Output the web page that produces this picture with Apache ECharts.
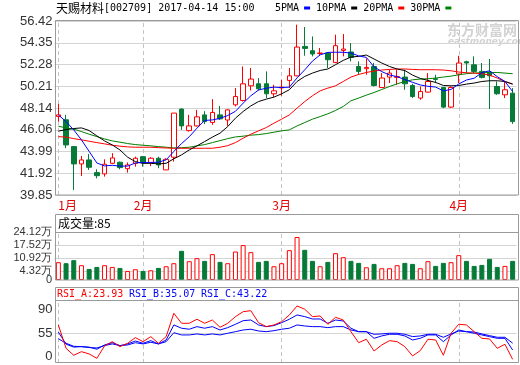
<!DOCTYPE html>
<html>
<head>
<meta charset="utf-8">
<script src="https://cdn.jsdelivr.net/npm/echarts@6/dist/echarts.min.js"></script>
<style>
html,body{margin:0;padding:0;background:#ffffff;}
#chart{width:520px;height:365px;}
</style>
</head>
<body>
<div id="chart"></div>
<script>
// ---------------- data ----------------
const STOCK_NAME = '天赐材料';
const STOCK_CODE = '002709';
const TIMESTAMP = '2017-04-14 15:00';
const VOLUME_TITLE = '成交量:85';

const DATES = [
 '2017-01-12','2017-01-13','2017-01-16','2017-01-17','2017-01-18','2017-01-19','2017-01-20','2017-01-23','2017-01-24','2017-01-25','2017-01-26',
 '2017-02-03','2017-02-06','2017-02-07','2017-02-08','2017-02-09','2017-02-10','2017-02-13','2017-02-14','2017-02-15','2017-02-16','2017-02-17','2017-02-20','2017-02-21','2017-02-22','2017-02-23','2017-02-24','2017-02-27','2017-02-28',
 '2017-03-01','2017-03-02','2017-03-03','2017-03-06','2017-03-07','2017-03-08','2017-03-09','2017-03-10','2017-03-13','2017-03-14','2017-03-15','2017-03-16','2017-03-17','2017-03-20','2017-03-21','2017-03-22','2017-03-23','2017-03-24','2017-03-27','2017-03-28','2017-03-29','2017-03-30','2017-03-31',
 '2017-04-05','2017-04-06','2017-04-07','2017-04-10','2017-04-11','2017-04-12','2017-04-13','2017-04-14'
];

const OPEN = [
 47.32,47.01,44.46,42.81,43.19,41.98,41.86,42.87,42.97,42.36,
 42.87,43.50,42.93,43.35,42.24,43.45,48.03,45.98,46.43,47.48,
 46.76,47.48,46.99,48.44,48.85,50.25,50.44,50.44,49.49,50.05,
 50.76,51.20,54.00,53.59,53.33,53.37,52.47,53.62,53.47,52.09,
 51.88,52.09,50.09,51.08,51.05,51.08,50.28,49.08,49.65,50.92,
 50.09,48.22,51.37,52.54,52.25,51.62,51.55,50.18,49.39,49.55
];
const CLOSE = [
 47.48,44.62,42.81,43.19,42.49,41.69,42.78,43.38,42.46,42.71,
 43.35,42.93,43.35,42.71,43.25,47.65,46.43,46.43,47.29,46.85,
 47.71,47.10,47.96,49.23,50.44,50.89,49.96,49.49,49.77,50.12,
 51.20,53.94,53.81,53.28,53.37,52.73,54.07,53.75,52.95,51.62,
 52.00,50.28,50.99,51.46,51.12,50.44,49.23,49.71,50.66,50.86,
 48.22,50.09,52.42,52.42,51.62,51.05,51.20,49.49,49.87,46.84
];
const LOW = [
 46.84,44.31,40.33,41.66,42.24,41.44,41.60,42.80,42.30,41.98,
 42.55,42.55,42.60,42.40,42.24,43.03,46.05,45.89,46.37,46.60,
 46.53,46.99,46.43,48.28,48.75,49.80,49.80,49.08,49.17,49.30,
 50.03,51.15,53.11,53.05,53.11,51.94,52.40,53.05,52.57,51.30,
 51.30,50.18,50.05,50.51,50.35,49.87,49.08,48.92,49.60,50.51,
 48.12,48.15,50.51,51.46,51.46,50.95,48.03,49.39,49.08,46.62
];
const HIGH = [
 48.53,47.48,44.46,43.57,43.76,42.30,43.25,43.83,43.03,42.95,
 43.50,43.55,43.45,43.50,43.35,47.65,48.10,47.48,47.96,47.83,
 48.98,48.34,48.03,50.03,52.09,51.94,50.99,51.62,50.35,50.82,
 51.94,56.07,55.85,54.95,53.85,53.46,55.12,55.18,54.32,52.57,
 52.86,52.42,51.46,51.78,51.78,51.78,50.44,50.18,51.46,51.30,
 50.12,50.20,53.11,52.64,53.05,52.42,52.80,50.66,50.66,50.03
];

const MA5 = [
 47.48,46.84,46.05,45.10,44.00,42.90,42.62,42.68,42.60,42.60,
 42.90,42.95,42.95,42.97,43.20,44.00,44.75,45.40,46.21,46.95,
 47.00,47.15,47.42,47.82,48.60,49.30,49.85,50.02,50.12,50.08,
 50.12,51.00,51.77,52.60,53.20,53.43,53.45,53.44,53.37,53.10,
 52.95,52.05,51.60,51.28,51.12,50.84,50.58,50.33,50.20,50.13,
 49.76,49.90,50.42,50.80,50.97,51.50,51.68,51.12,50.66,49.70
];
const MA10 = [
 45.93,46.08,46.18,46.24,45.99,45.48,45.00,44.62,44.14,43.45,
 43.03,42.86,42.87,42.81,42.87,43.30,43.67,44.14,44.53,44.94,
 45.36,45.74,46.37,47.17,47.80,48.34,48.75,48.98,49.17,49.49,
 49.87,50.66,51.14,51.46,51.71,51.85,52.26,52.67,52.99,53.05,
 53.18,52.80,52.42,52.09,51.85,51.70,51.27,50.95,50.76,50.57,
 50.28,50.25,50.28,50.41,50.51,50.66,50.73,50.73,50.66,50.41
];
const MA20 = [
 45.41,45.36,45.22,45.10,44.97,44.84,44.72,44.59,44.50,44.43,
 44.40,44.40,44.40,44.36,44.33,44.30,44.30,44.30,44.30,44.30,
 44.30,44.40,44.55,44.84,45.26,45.64,45.96,46.27,46.69,47.07,
 47.48,48.12,48.75,49.30,49.77,50.03,50.25,50.66,51.08,51.33,
 51.52,51.65,51.75,51.81,51.85,51.85,51.81,51.78,51.78,51.78,
 51.75,51.68,51.56,51.49,51.46,51.40,51.27,50.99,50.66,50.41
];
const MA30 = [
 46.40,46.24,46.12,45.89,45.64,45.41,45.19,45.00,44.88,44.75,
 44.65,44.59,44.53,44.46,44.40,44.33,44.36,44.40,44.53,44.65,
 44.84,45.03,45.22,45.38,45.45,45.55,45.60,45.70,45.83,45.96,
 46.05,46.43,46.75,47.07,47.32,47.58,47.90,48.28,48.82,49.08,
 49.36,49.61,49.90,50.18,50.44,50.66,50.82,50.89,50.92,50.99,
 51.08,51.17,51.30,51.40,51.46,51.49,51.52,51.52,51.46,51.40
];

// volume in 万 (10k shares)
const VOLUME = [
 8.95,8.44,9.96,7.43,5.56,6.57,7.43,6.57,6.07,4.55,
 5.41,4.55,4.89,6.07,6.91,8.44,14.66,9.45,10.97,9.61,
 12.99,9.10,8.44,14.31,17.54,14.00,9.10,9.61,6.91,8.44,
 15.00,21.60,15.17,9.61,6.91,9.10,13.48,11.46,9.61,8.60,
 6.40,8.09,5.90,5.90,7.43,8.60,8.09,5.90,9.45,7.08,
 8.60,8.95,12.49,9.61,7.08,7.58,10.62,6.57,7.08,9.61
];

const RSI_A = [
 64.9,37.1,28.8,33.1,30.4,25.2,39.9,45.0,39.1,43.1,
 49.8,45.0,51.0,43.1,51.0,78.8,66.9,66.9,71.7,66.9,
 70.8,62.1,66.9,74.8,80.7,81.9,67.6,62.9,64.9,68.8,
 76.8,87.5,83.6,74.8,75.6,65.7,74.0,70.8,56.9,43.8,
 47.9,33.9,41.1,46.2,45.0,39.1,28.0,34.3,47.9,47.0,
 28.8,55.0,65.7,64.9,56.9,49.0,48.2,37.1,41.9,23.93
];
const RSI_B = [
 56.5,42.0,38.5,39.1,38.5,36.0,41.1,43.8,40.3,42.3,
 45.8,43.1,46.2,42.3,47.0,64.9,61.0,59.8,62.9,61.0,
 62.9,58.9,61.7,65.7,70.0,70.8,64.9,62.9,64.1,67.6,
 71.7,76.8,74.8,72.0,72.0,66.9,70.8,69.6,61.0,56.9,
 56.9,49.0,51.8,53.8,53.8,51.8,47.0,49.0,53.0,53.0,
 45.0,53.0,58.9,56.9,55.0,53.0,51.0,49.0,49.0,35.07
];
const RSI_C = [
 48.5,43.1,39.5,39.1,38.0,37.5,40.3,42.3,40.3,41.1,
 43.8,42.3,44.3,42.3,45.0,55.7,53.0,53.0,54.2,53.0,
 54.2,53.0,55.0,56.9,58.9,59.8,57.7,56.9,58.1,59.8,
 61.0,64.9,63.7,62.9,62.9,61.7,62.9,62.9,58.9,56.9,
 56.9,53.8,54.2,55.0,55.0,53.8,51.0,51.8,53.8,53.8,
 50.2,54.2,57.7,56.9,56.5,54.2,52.2,50.2,50.2,43.22
];

const PRICE_TICKS = [39.85, 41.92, 43.99, 46.06, 48.14, 50.21, 52.28, 54.35, 56.42];
const VOLUME_TICKS = [0, 4.32, 10.92, 17.52, 24.12];
const RSI_TICKS = [0, 55, 90];

// ---------------- chart ----------------
const RED = '#ff0000', GREEN = '#067a37', BLUE = '#0000ff', BLACK = '#000000', MAGREEN = '#008000';
const GRID_LINE = '#d4d4d4', FRAME = '#9a9a9a', DASH = '#c4c4c4';
const RSI_MIN = 19.6, RSI_MAX = 94.6;

const monthStarts = DATES.map((d, i) => (i === 0 || d.slice(5, 7) !== DATES[i - 1].slice(5, 7)) ? i : -1).filter(i => i >= 0);
const vLines = monthStarts.map(i => ({ xAxis: DATES[i], lineStyle: { color: DASH, type: [4, 3], width: 1 } }));
const hLine = v => ({ yAxis: v, lineStyle: { color: GRID_LINE, type: 'solid', width: 1 } });
const markBase = { silent: true, symbol: ['none', 'none'], label: { show: false }, z: 1, animation: false };

const candleData = OPEN.map((o, i) => [o, CLOSE[i], LOW[i], HIGH[i]]);
const volData = VOLUME.map((v, i) => {
  const up = CLOSE[i] >= OPEN[i];
  return { value: v, itemStyle: up ? { color: '#ffffff', borderColor: RED, borderWidth: 1 } : { color: GREEN, borderColor: GREEN, borderWidth: 1 } };
});

function catAxis(gridIndex, showLabel) {
  return {
    type: 'category', gridIndex, data: DATES, boundaryGap: true,
    axisLine: { show: false }, axisTick: { show: false }, splitLine: { show: false },
    axisLabel: showLabel ? {
      show: true, color: '#e00000', fontSize: 12, fontFamily: 'Noto Sans CJK SC', margin: 4,
      interval: (idx) => monthStarts.includes(idx),
      formatter: (val) => parseInt(val.slice(5, 7), 10) + '月',
      alignMinLabel: 'left'
    } : { show: false }
  };
}
function lineSeries(name, data, color, xi, yi) {
  return {
    type: 'line', name, data, xAxisIndex: xi, yAxisIndex: yi, symbol: 'none', showSymbol: false,
    smooth: false, color, itemStyle: { color }, lineStyle: { color, width: 1 }, emphasis: { disabled: true }
  };
}

const chart = echarts.init(document.getElementById('chart'), null, { renderer: 'canvas', width: 520, height: 365 });

const baseGraphic = [
  { type: 'text', x: 447, y: 30, z: 0, silent: true, style: { text: '东方财富网', font: 'bold 14px "Noto Sans CJK SC"', fill: '#d2d2d2', verticalAlign: 'middle' } },
  { type: 'text', x: 448, y: 42, z: 0, silent: true, style: { text: 'eastmoney.com', font: 'italic bold 9px "DejaVu Sans"', fill: '#d2d2d2', verticalAlign: 'middle' } },
  { type: 'rect', z: 20, silent: true, shape: { x: 55.5, y: 20.5, width: 463, height: 174.5 }, style: { fill: 'none', stroke: FRAME, lineWidth: 1 } },
  { type: 'rect', z: 20, silent: true, shape: { x: 55.5, y: 214.5, width: 463, height: 65.5 }, style: { fill: 'none', stroke: FRAME, lineWidth: 1 } },
  { type: 'line', z: 20, silent: true, shape: { x1: 55.5, y1: 232.5, x2: 518.5, y2: 232.5 }, style: { stroke: FRAME, lineWidth: 1 } },
  { type: 'rect', z: 20, silent: true, shape: { x: 55.5, y: 287.5, width: 463, height: 75 }, style: { fill: 'none', stroke: FRAME, lineWidth: 1 } },
  { type: 'line', z: 20, silent: true, shape: { x1: 55.5, y1: 300.5, x2: 518.5, y2: 300.5 }, style: { stroke: FRAME, lineWidth: 1 } },
  { type: 'text', x: 58, y: 223.5, z: 21, silent: true, style: { text: VOLUME_TITLE, font: '12px "Noto Sans CJK SC"', fill: '#000', verticalAlign: 'middle' } },
  { type: 'text', x: 57, y: 294.5, z: 21, silent: true, style: { text: 'RSI_A:' + RSI_A[RSI_A.length - 1].toFixed(2), font: '10px "DejaVu Sans Mono"', fill: RED, verticalAlign: 'middle' } },
  { type: 'text', x: 129, y: 294.5, z: 21, silent: true, style: { text: 'RSI_B:' + RSI_B[RSI_B.length - 1].toFixed(2), font: '10px "DejaVu Sans Mono"', fill: BLUE, verticalAlign: 'middle' } },
  { type: 'text', x: 201, y: 294.5, z: 21, silent: true, style: { text: 'RSI_C:' + RSI_C[RSI_C.length - 1].toFixed(2), font: '10px "DejaVu Sans Mono"', fill: BLUE, verticalAlign: 'middle' } }
];

const option = {
  animation: false,
  backgroundColor: '#ffffff',
  title: {
    left: 56, top: 1, padding: 0,
    text: '{a|' + STOCK_NAME + '}{b|[' + STOCK_CODE + '] ' + TIMESTAMP + '}',
    textStyle: {
      fontWeight: 'normal',
      rich: {
        a: { fontFamily: 'Noto Sans CJK SC', fontSize: 12, fontWeight: 'normal', color: '#000', lineHeight: 15 },
        b: { fontFamily: 'DejaVu Sans Mono', fontSize: 10, fontWeight: 'normal', color: '#000', lineHeight: 15 }
      }
    }
  },
  legend: {
    left: 275, top: 3, padding: 0, itemGap: 6, itemWidth: 6, itemHeight: 3, icon: 'rect', align: 'right',
    selectedMode: false,
    textStyle: { fontFamily: 'DejaVu Sans Mono', fontSize: 10, color: '#000' },
    data: ['5PMA', '10PMA', '20PMA', '30PMA']
  },
  grid: [
    { left: 54.5, top: 21, width: 462, height: 174, outerBoundsMode: 'none', containLabel: false },
    { left: 54.5, top: 232, width: 462, height: 48, outerBoundsMode: 'none', containLabel: false },
    { left: 54.5, top: 300, width: 462, height: 63, outerBoundsMode: 'none', containLabel: false }
  ],
  xAxis: [catAxis(0, true), catAxis(1, false), catAxis(2, false)],
  yAxis: [
    {
      type: 'value', gridIndex: 0, scale: true,
      min: PRICE_TICKS[0], max: PRICE_TICKS[PRICE_TICKS.length - 1],
      interval: (PRICE_TICKS[PRICE_TICKS.length - 1] - PRICE_TICKS[0]) / (PRICE_TICKS.length - 1),
      axisLine: { show: false }, axisTick: { show: false },
      splitLine: { show: true, lineStyle: { color: GRID_LINE, width: 1 } },
      axisLabel: { customValues: PRICE_TICKS, formatter: v => v.toFixed(2), color: '#333', fontSize: 13, fontFamily: 'Liberation Sans', margin: 2, hideOverlap: false, showMinLabel: true, showMaxLabel: true }
    },
    {
      type: 'value', gridIndex: 1, min: 0, max: VOLUME_TICKS[VOLUME_TICKS.length - 1],
      axisLine: { show: false }, axisTick: { show: false }, splitLine: { show: false },
      axisLabel: { show: false }
    },
    {
      type: 'value', gridIndex: 2, min: RSI_MIN, max: RSI_MAX,
      axisLine: { show: false }, axisTick: { show: false }, splitLine: { show: false },
      axisLabel: {
        customValues: [RSI_MIN, RSI_TICKS[1], RSI_TICKS[2]],
        formatter: v => v === RSI_TICKS[1] ? '{m|' + RSI_TICKS[1] + '}' : (v === RSI_TICKS[2] ? '{t|' + RSI_TICKS[2] + '}' : '{b|' + RSI_TICKS[0] + '}'),
        margin: 2, hideOverlap: false, showMinLabel: true, showMaxLabel: true,
        rich: {
          m: { fontSize: 13, fontFamily: 'Liberation Sans', color: '#333', lineHeight: 14 },
          t: { fontSize: 13, fontFamily: 'Liberation Sans', color: '#333', lineHeight: 14, padding: [12, 0, 0, 0] },
          b: { fontSize: 13, fontFamily: 'Liberation Sans', color: '#333', lineHeight: 14, padding: [0, 0, 14, 0] }
        }
      }
    }
  ],
  series: [
    {
      type: 'candlestick', name: 'K', xAxisIndex: 0, yAxisIndex: 0, data: candleData, barWidth: 5,
      itemStyle: { color: '#ffffff', color0: GREEN, borderColor: RED, borderColor0: GREEN, borderWidth: 1 },
      emphasis: { disabled: true },
      markLine: Object.assign({}, markBase, { data: vLines })
    },
    lineSeries('30PMA', MA30, MAGREEN, 0, 0),
    lineSeries('20PMA', MA20, RED, 0, 0),
    lineSeries('10PMA', MA10, BLACK, 0, 0),
    lineSeries('5PMA', MA5, BLUE, 0, 0),
    {
      type: 'bar', name: 'VOL', xAxisIndex: 1, yAxisIndex: 1, data: volData, barWidth: 5,
      emphasis: { disabled: true },
      markLine: Object.assign({}, markBase, { data: VOLUME_TICKS.slice(1, -1).map(hLine).concat(vLines) })
    },
    Object.assign(lineSeries('RSI_C', RSI_C, BLUE, 2, 2), { markLine: Object.assign({}, markBase, { data: [hLine(RSI_TICKS[1])].concat(vLines) }) }),
    lineSeries('RSI_B', RSI_B, BLUE, 2, 2),
    lineSeries('RSI_A', RSI_A, RED, 2, 2)
  ],
  graphic: baseGraphic
};
chart.setOption(option);

// volume axis tick labels, placed through the volume axis scale
const volLabels = VOLUME_TICKS.map(v => {
  const y = chart.convertToPixel({ yAxisIndex: 1 }, v);
  return {
    type: 'text', x: 52, y: y, z: 21, silent: true,
    style: { text: v === 0 ? '0' : v.toFixed(2) + '万', font: '11px "Liberation Sans"', fill: '#333', align: 'right', verticalAlign: 'middle' }
  };
});
chart.setOption({ graphic: baseGraphic.concat(volLabels) });
</script>
</body>
</html>
